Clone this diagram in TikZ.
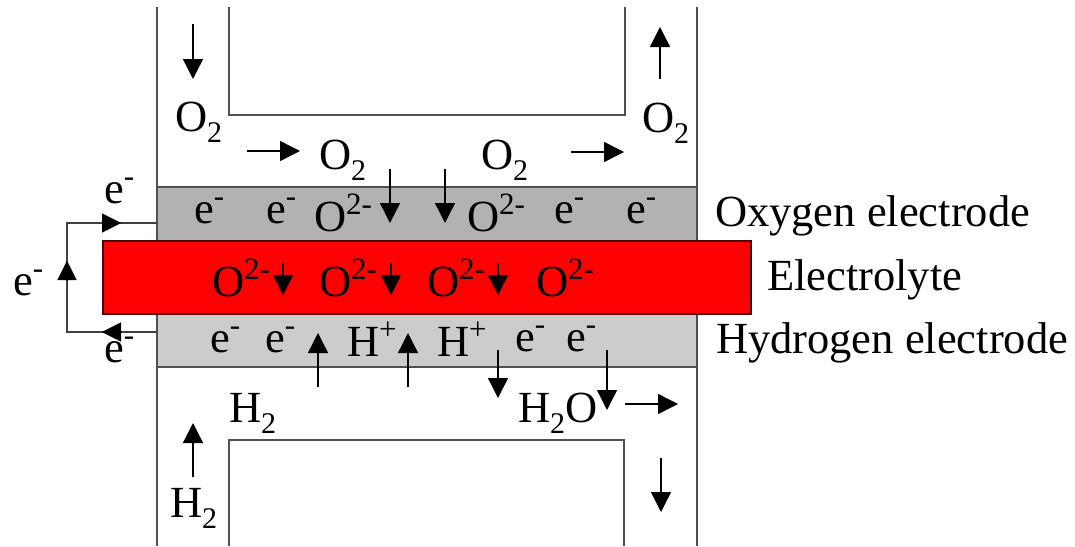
\documentclass[tikz,border=0pt]{standalone}
\usepackage{fontspec}
\setmainfont{Liberation Serif}
\usetikzlibrary{arrows.meta}
\definecolor{boxline}{HTML}{505050}
\definecolor{oxfill}{HTML}{B2B2B2}
\definecolor{hyfill}{HTML}{CCCCCC}
\definecolor{elred}{HTML}{FF0000}
\newcommand\upx[1]{\raisebox{17pt}{\fontsize{31}{32}\selectfont #1}}
\newcommand\dnx[1]{\raisebox{-11pt}{\fontsize{30}{31}\selectfont #1}}
\tikzset{
  wall/.style={draw=boxline, line width=2pt},
  layer/.style={draw=boxline, line width=1.8pt, inner sep=0pt, outer sep=0pt, anchor=north west},
  txt/.style={inner sep=0pt, outer sep=0pt, anchor=base west, font=\fontsize{44.5}{52}\selectfont},
  arr/.style={draw=black, line width=1.4pt, -{Triangle[length=20pt,width=20pt]}},
  wire/.style={draw=black!75, line width=1.5pt},
  tip/.style={draw=black, line width=0.2pt, -{Triangle[length=19pt,width=19pt]}}
}
\begin{document}
\begin{tikzpicture}[x=1pt,y=-1pt]
\useasboundingbox (0,0) rectangle (1075,546);
% walls
\coordinate (lwt) at (157,7); \coordinate (lwb) at (157,546);
\coordinate (rwt) at (697,7); \coordinate (rwb) at (697,546);
\draw[wall] (lwt) -- (lwb);
\draw[wall] (rwt) -- (rwb);
% inner channel blocks
\coordinate (ti1) at (229,7); \coordinate (ti2) at (229,115);
\coordinate (ti3) at (625,115); \coordinate (ti4) at (625,7);
\draw[wall] (ti1) -- (ti2) -- (ti3) -- (ti4);
\coordinate (bi1) at (229,546); \coordinate (bi2) at (229,440);
\coordinate (bi3) at (624,440); \coordinate (bi4) at (624,546);
\draw[wall] (bi1) -- (bi2) -- (bi3) -- (bi4);
% layers
\node[layer, fill=oxfill, minimum width=540pt, minimum height=54pt] (oxel) at (157,187) {};
\node[layer, fill=hyfill, minimum width=540pt, minimum height=53pt] (hyel) at (157,314) {};
\node[layer, fill=elred, draw=black!70!red, minimum width=648pt, minimum height=73pt] (elyt) at (103,241) {};
% external circuit
\coordinate (wt) at (157,223); \coordinate (c1) at (67,223);
\coordinate (c2) at (67,332); \coordinate (wb) at (157,332);
\draw[wire] (wt) -- (c1) -- (c2) -- (wb);
\coordinate (t1a) at (102,223); \coordinate (t1b) at (121,223);
\coordinate (t2a) at (67,280); \coordinate (t2b) at (67,261);
\coordinate (t3a) at (121,332); \coordinate (t3b) at (102,332);
\draw[tip] (t1a) -- (t1b);
\draw[tip] (t2a) -- (t2b);
\draw[tip] (t3a) -- (t3b);
\node[txt] (ce1) at (104,203) {e\upx{-}};
\node[txt] (ce2) at (13,295) {e\upx{-}};
\node[txt] (ce3) at (104,362) {e\upx{-}};
% oxygen channel
\node[txt] (o2a) at (175,131) {O\dnx{2}};
\node[txt] (o2b) at (319,169) {O\dnx{2}};
\node[txt] (o2c) at (481,169) {O\dnx{2}};
\node[txt] (o2d) at (642,132) {O\dnx{2}};
% oxygen electrode row
\node[txt] (oe1) at (194,223) {e\upx{-}};
\node[txt] (oe2) at (266,223) {e\upx{-}};
\node[txt] (oo1) at (314,231) {O\upx{2-}};
\node[txt] (oo2) at (467,231) {O\upx{2-}};
\node[txt] (oe3) at (554,223) {e\upx{-}};
\node[txt] (oe4) at (626,223) {e\upx{-}};
% electrolyte row
\node[txt] (eo1) at (212,296) {O\upx{2-}};
\node[txt] (eo2) at (319,296) {O\upx{2-}};
\node[txt] (eo3) at (427,296) {O\upx{2-}};
\node[txt] (eo4) at (536,296) {O\upx{2-}};
% hydrogen electrode row
\node[txt] (he1) at (210,352) {e\upx{-}};
\node[txt] (he2) at (265,352) {e\upx{-}};
\node[txt] (hh1) at (347,356) {H\upx{+}};
\node[txt] (hh2) at (437,356) {H\upx{+}};
\node[txt] (he3) at (515,351) {e\upx{-}};
\node[txt] (he4) at (566,351) {e\upx{-}};
% hydrogen channel
\node[txt] (h2o) at (518,422) {H\dnx{2}O};
\node[txt] (h2a) at (229,422) {H\dnx{2}};
\node[txt] (h2b) at (170,517) {H\dnx{2}};
% labels
\node[txt] (lox) at (715,226) {Oxygen electrode};
\node[txt] (lel) at (767,290) {Electrolyte};
\node[txt] (lhy) at (716,353) {Hydrogen electrode};
% arrows
\coordinate (a1s) at (193,24);  \coordinate (a1e) at (193,79);
\coordinate (a2s) at (660,79);  \coordinate (a2e) at (660,27);
\coordinate (a3s) at (247,151); \coordinate (a3e) at (300,151);
\coordinate (a4s) at (571,152); \coordinate (a4e) at (624,152);
\coordinate (a5s) at (390,169); \coordinate (a5e) at (390,223);
\coordinate (a6s) at (445,169); \coordinate (a6e) at (445,223);
\coordinate (a7s) at (283,263); \coordinate (a7e) at (283,295);
\coordinate (a8s) at (391,263); \coordinate (a8e) at (391,295);
\coordinate (a9s) at (498,263); \coordinate (a9e) at (498,295);
\coordinate (b1s) at (318,387); \coordinate (b1e) at (318,333);
\coordinate (b2s) at (408,387); \coordinate (b2e) at (408,333);
\coordinate (b3s) at (498,350); \coordinate (b3e) at (498,398);
\coordinate (b4s) at (607,350); \coordinate (b4e) at (607,410);
\coordinate (b5s) at (625,404); \coordinate (b5e) at (678,404);
\coordinate (b6s) at (193,477); \coordinate (b6e) at (193,423);
\coordinate (b7s) at (661,458); \coordinate (b7e) at (661,512);
\foreach \a in {a1,a2,a3,a4,a5,a6,a7,a8,a9,b1,b2,b3,b4,b5,b6,b7}
  \draw[arr] (\a s) -- (\a e);
\end{tikzpicture}
\end{document}
